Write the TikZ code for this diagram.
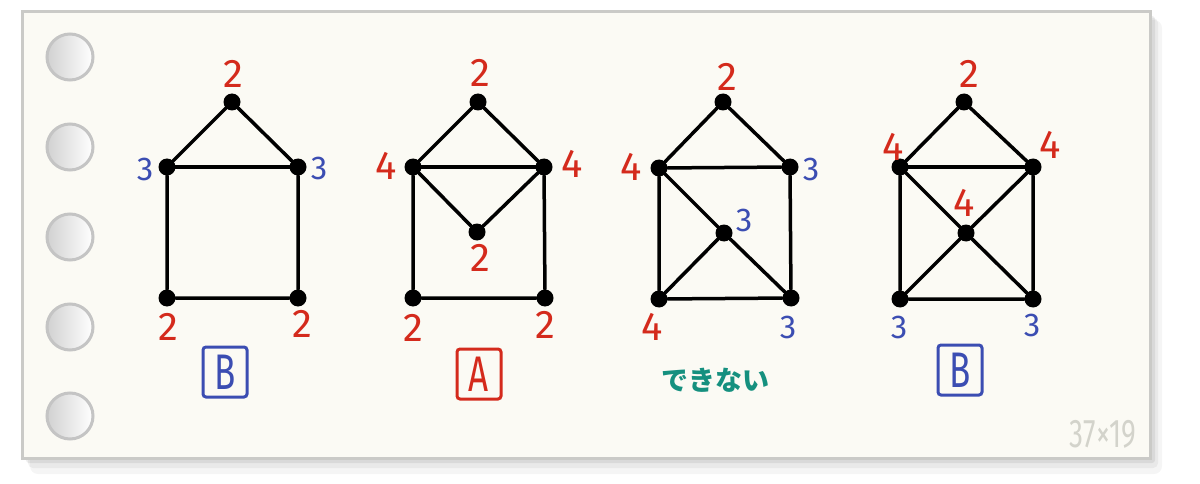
\documentclass[tikz,border=0pt]{standalone}
\usepackage{fontspec}
\newfontfamily\handfont{Fira Sans}
\newfontfamily\jpfont{Noto Sans CJK JP}
\definecolor{degred}{HTML}{D42A1C}
\definecolor{degblue}{HTML}{3B4DB2}
\definecolor{nogreen}{HTML}{15907F}
\definecolor{paper}{HTML}{FBFAF4}
\definecolor{paperedge}{HTML}{CACAC7}
\definecolor{holeedge}{HTML}{C4C4C4}
\definecolor{pencil}{HTML}{D3D3CB}

\begin{document}
\begin{tikzpicture}[x=1pt,y=-1pt,
  vtx/.style={circle,fill=black,inner sep=0pt,minimum size=17pt},
  edge/.style={line width=3.5pt,line cap=round},
  degbig/.style={font=\handfont\fontsize{40}{40}\selectfont,inner sep=0pt},
  degsmall/.style={font=\handfont\fontsize{33}{33}\selectfont,inner sep=0pt},
  grade/.style={draw,line width=3pt,rounded corners=3pt,minimum width=44pt,
    minimum height=50pt,inner sep=0pt,font=\handfont\fontsize{50}{50}\selectfont}]

\useasboundingbox (0,0) rectangle (1200,484);

%% sheet of paper with its shadow
\fill[black,opacity=0.04,rounded corners=8pt] (30,20) rectangle (1162,474);
\fill[black,opacity=0.05,rounded corners=5pt] (28,18) rectangle (1158,468);
\fill[black,opacity=0.07,rounded corners=3pt] (26,16) rectangle (1155,463);
\draw[paperedge,fill=paper,line width=3pt] (22,12) rectangle (1150,458);

%% binder holes
\foreach \y in {57,147,237,327,416}
  \draw[holeedge,line width=3pt,left color=black!18,right color=white]
    (70,\y) circle (23pt);

%% graph 1
\node[vtx] (t1) at (232,102) {};
\node[vtx] (l1) at (167,167) {};
\node[vtx] (r1) at (298,167) {};
\node[vtx] (bl1) at (167,298) {};
\node[vtx] (br1) at (298,298) {};
\draw[edge] (t1) -- (l1) -- (bl1) -- (br1) -- (r1) -- (t1);
\draw[edge] (l1) -- (r1);

\node[degbig,degred] (t1n) at (233,74) {2};
\node[degsmall,degblue] (l1n) at (145,169) {3};
\node[degsmall,degblue] (r1n) at (319,168) {3};
\node[degbig,degred] (bl1n) at (168,327) {2};
\node[degbig,degred] (br1n) at (302,324) {2};
\node[grade,degblue] (g1) at (225,372) {\scalebox{0.7}[1]{B}};

%% graph 2
\node[vtx] (t2) at (478,102) {};
\node[vtx] (l2) at (413,167) {};
\node[vtx] (r2) at (544,167) {};
\node[vtx] (m2) at (477,232) {};
\node[vtx] (bl2) at (413,298) {};
\node[vtx] (br2) at (545,298) {};
\draw[edge] (t2) -- (l2) -- (bl2) -- (br2) -- (r2) -- (t2);
\draw[edge] (l2) -- (r2);
\draw[edge] (l2) -- (m2) -- (r2);

\node[degbig,degred] (t2n) at (480,73) {2};
\node[degbig,degred] (l2n) at (386,166) {4};
\node[degbig,degred] (r2n) at (572,164) {4};
\node[degbig,degred] (m2n) at (480,258) {2};
\node[degbig,degred] (bl2n) at (413,328) {2};
\node[degbig,degred] (br2n) at (545,325) {2};
\node[grade,degred] (g2) at (479,374) {\scalebox{0.7}[1]{A}};

%% graph 3
\node[vtx] (t3) at (723,102) {};
\node[vtx] (l3) at (659,168) {};
\node[vtx] (r3) at (790,167) {};
\node[vtx] (m3) at (724,233) {};
\node[vtx] (bl3) at (659,299) {};
\node[vtx] (br3) at (791,298) {};
\draw[edge] (t3) -- (l3) -- (bl3) -- (br3) -- (r3) -- (t3);
\draw[edge] (l3) -- (r3);
\draw[edge] (l3) -- (m3) -- (br3);
\draw[edge] (m3) -- (bl3);

\node[degbig,degred] (t3n) at (727,77) {2};
\node[degbig,degred] (l3n) at (631,167) {4};
\node[degsmall,degblue] (r3n) at (811,169) {3};
\node[degsmall,degblue] (m3n) at (744,220) {3};
\node[degbig,degred] (bl3n) at (652,327) {4};
\node[degsmall,degblue] (br3n) at (788,327) {3};
\node[font=\jpfont\bfseries\fontsize{27}{27}\selectfont,text=nogreen,inner sep=0pt]
  (no3) at (715,380) {できない};

%% graph 4
\node[vtx] (t4) at (964,102) {};
\node[vtx] (l4) at (900,167) {};
\node[vtx] (r4) at (1033,167) {};
\node[vtx] (m4) at (966,233) {};
\node[vtx] (bl4) at (900,299) {};
\node[vtx] (br4) at (1033,299) {};
\draw[edge] (t4) -- (l4) -- (bl4) -- (br4) -- (r4) -- (t4);
\draw[edge] (l4) -- (r4);
\draw[edge] (l4) -- (m4) -- (br4);
\draw[edge] (r4) -- (m4) -- (bl4);

\node[degbig,degred] (t4n) at (969,74) {2};
\node[degbig,degred] (l4n) at (893,147) {4};
\node[degbig,degred] (r4n) at (1050,145) {4};
\node[degbig,degred] (m4n) at (964,203) {4};
\node[degsmall,degblue] (bl4n) at (899,327) {3};
\node[degsmall,degblue] (br4n) at (1032,325) {3};
\node[grade,degblue] (g4) at (960,370) {\scalebox{0.7}[1]{B}};

%% size note
\node[font=\handfont\fontsize{40}{40}\selectfont,text=pencil,inner sep=0pt]
  (size) at (1103,434) {\scalebox{0.7}[1]{37×19}};

\end{tikzpicture}
\end{document}
